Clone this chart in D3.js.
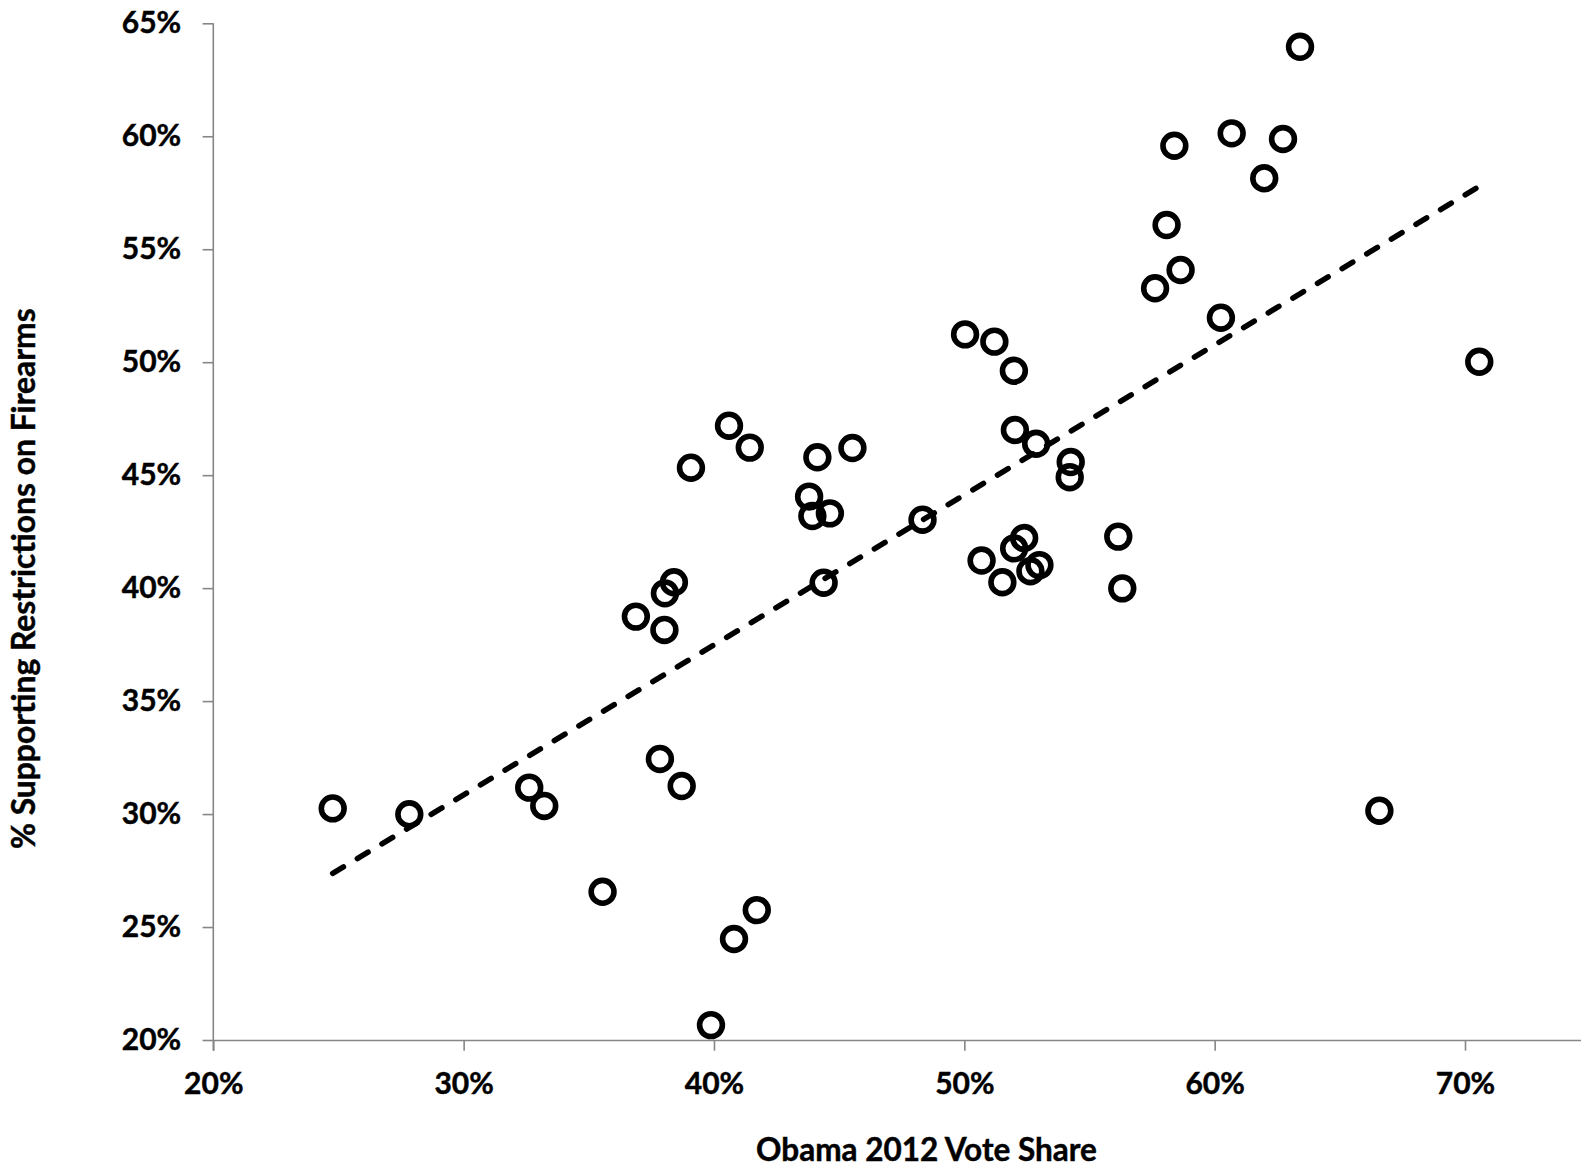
<!DOCTYPE html>
<html>
<head>
<meta charset="utf-8">
<script src="https://cdn.jsdelivr.net/npm/d3@7"></script>
<style>
  html, body { margin: 0; padding: 0; background: #fff; }
  svg { display: block; }
  text { font-family: Lato, "Open Sans", sans-serif; font-weight: 700; fill: #000; stroke: #000; stroke-width: 0.45px; }
</style>
</head>
<body>
<svg id="chart" width="1581" height="1168"></svg>
<script>
// Obama 2012 vote share (%) per state
const voteShare = [
  24.77, 27.83, 32.62, 33.22, 35.55, 36.88, 37.84, 38.02, 38.04, 38.40,
  38.71, 39.08, 39.88, 40.60, 40.80, 41.43, 41.71, 43.80, 43.93, 44.13,
  44.38, 44.63, 45.53, 48.33, 50.03, 50.69, 51.20, 51.52, 51.98, 51.99,
  52.02, 52.39, 52.64, 52.87, 53.00, 54.25, 54.21, 56.15, 56.31, 57.62,
  58.08, 58.39, 58.64, 60.25, 60.68, 61.98, 62.73, 63.41, 66.58, 70.57
];
// Share supporting restrictions on firearms (%) per state
const supportRestrictions = [
  30.25, 29.99, 31.17, 30.36, 26.56, 38.74, 32.44, 38.15, 39.77, 40.26,
  31.24, 45.33, 20.66, 47.19, 24.47, 46.22, 25.75, 44.05, 43.19, 45.79,
  40.24, 43.31, 46.20, 43.03, 51.23, 41.22, 50.91, 40.26, 49.62, 41.76,
  47.00, 42.22, 40.75, 46.39, 41.02, 45.58, 44.91, 42.28, 39.99, 53.27,
  56.07, 59.58, 54.08, 51.97, 60.13, 58.14, 59.88, 63.96, 30.15, 50.02
];
const xTicks = [20, 30, 40, 50, 60, 70];
const yTicks = [20, 25, 30, 35, 40, 45, 50, 55, 60, 65];

const xTitle = "Obama 2012 Vote Share";
const yTitle = "% Supporting Restrictions on Firearms";

const points = voteShare.map((v, i) => ({ x: v, y: supportRestrictions[i] }));

const svg = d3.select("#chart");
const axisColor = "#868686";

const x = d3.scaleLinear().domain([20, 75]).range([213.3, 213.3 + 55 * 25.034]);
const y = d3.scaleLinear().domain([20, 65]).range([1040, 23.3]);

const pct = d => d + "%";

// Axes
const xAxis = svg.append("g")
  .attr("transform", `translate(0,${y(20)})`)
  .call(d3.axisBottom(x).tickValues(xTicks).tickFormat(pct).tickSize(10.7).tickPadding(22).tickSizeOuter(0));
const yAxis = svg.append("g")
  .attr("transform", `translate(${x(20)},0)`)
  .call(d3.axisLeft(y).tickValues(yTicks).tickFormat(pct).tickSize(10.7).tickPadding(21.4).tickSizeOuter(0));

[xAxis, yAxis].forEach(g => {
  g.select(".domain").attr("stroke", axisColor).attr("stroke-width", 1.6);
  g.selectAll(".tick line").attr("stroke", axisColor).attr("stroke-width", 1.6);
  g.selectAll(".tick text").attr("font-size", 30).attr("font-family", "Lato, 'Open Sans', sans-serif").attr("font-weight", 700).attr("fill", "#000");
});
// extend the left axis down to the x axis (shared corner)
yAxis.select(".domain").attr("d", `M0,${y(65)}V${y(20) + 10.7}`);

// Least-squares trend line across the data range
const mx = d3.mean(points, d => d.x), my = d3.mean(points, d => d.y);
const slope = d3.sum(points, d => (d.x - mx) * (d.y - my)) / d3.sum(points, d => (d.x - mx) ** 2);
const intercept = my - slope * mx;
const [xmin, xmax] = d3.extent(points, d => d.x);
const trend = [xmin, xmax].map(v => ({ x: v, y: intercept + slope * v }));

svg.append("path")
  .datum(trend)
  .attr("d", d3.line().x(d => x(d.x)).y(d => y(d.y)))
  .attr("fill", "none")
  .attr("stroke", "#000")
  .attr("stroke-width", 5.5)
  .attr("stroke-linecap", "round")
  .attr("stroke-dasharray", "12.5 16.2");

// Markers
svg.append("g")
  .selectAll("circle")
  .data(points)
  .join("circle")
  .attr("cx", d => x(d.x))
  .attr("cy", d => y(d.y))
  .attr("r", 11.4)
  .attr("fill", "none")
  .attr("stroke", "#000")
  .attr("stroke-width", 5.6);

// Axis titles
svg.append("text")
  .attr("x", 926.5)
  .attr("y", 1161)
  .attr("text-anchor", "middle")
  .attr("font-size", 31.5)
  .text(xTitle);

svg.append("text")
  .attr("transform", `translate(35,578.7) rotate(-90)`)
  .attr("text-anchor", "middle")
  .attr("font-size", 31.8)
  .text(yTitle);
</script>
</body>
</html>
